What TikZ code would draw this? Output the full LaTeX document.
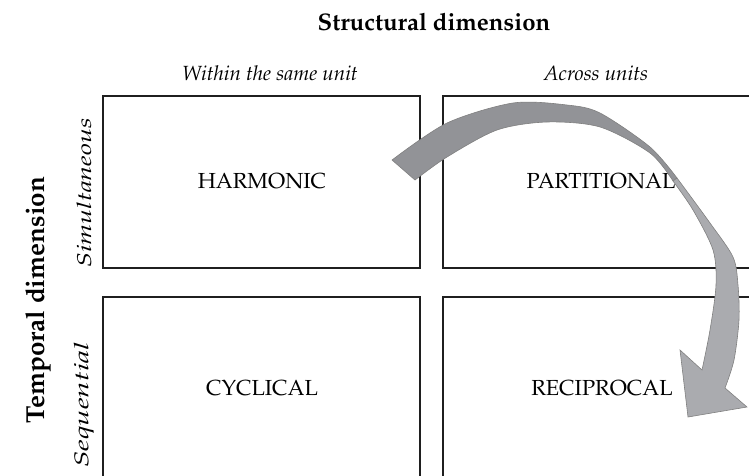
\documentclass[tikz,border=0pt]{standalone}
\usepackage[T1]{fontenc}
\renewcommand{\rmdefault}{ppl}
\begin{document}
\begin{tikzpicture}[x=1pt,y=-1pt,
  cell/.style={draw=black!88,line width=1.8pt},
  lab/.style={font=\fontsize{21.8}{26}\selectfont},
  head/.style={font=\fontsize{24}{28}\selectfont\bfseries},
  sub/.style={font=\fontsize{20.5}{24}\selectfont\itshape},
  vsub/.style={font=\fontsize{20}{24}\selectfont\itshape},
  ribbon/.style={draw=black!50,line width=0.6pt}]
\useasboundingbox (0,0) rectangle (749,475);
\begin{scope}
\clip (0,0) rectangle (749,475);
\draw[cell] (103,96) rectangle (420,268);
\draw[cell] (443,96) rectangle (770,268);
\draw[cell] (103,297) rectangle (420,490);
\draw[cell] (443,297) rectangle (770,490);
\end{scope}
\node[head] (sd) at (434,22) {Structural dimension};
\node[sub] (wu) at (270,73) {Within the same unit};
\node[sub] (au) at (596,73) {Across units};
\node[head,rotate=90,font=\fontsize{26}{30}\selectfont\bfseries] (td) at (38,300) {Temporal dimension};
\node[vsub,rotate=90] (si) at (84,193) {\scalebox{1.34}[1]{Simultaneous}};
\node[vsub,rotate=90] (se) at (84,405) {\scalebox{1.48}[1]{Sequential}};
\node[lab] (ha) at (262,181) {HARMONIC};
\node[lab] (pa) at (601,181) {PARTITIONAL};
\node[lab] (cy) at (262,388) {CYCLICAL};
\node[lab] (re) at (602,388) {RECIPROCAL};
% twisted ribbon arrow
\filldraw[ribbon,fill={rgb,255:red,146;green,147;blue,151}]
  plot[smooth] coordinates {(392,160) (447,123) (513,103) (567,105) (600,113) (650,147) (677,178)}
  -- plot[smooth] coordinates {(673,181) (650,153) (600,127) (547,122) (497,130) (447,157) (415,180)}
  -- cycle;
\filldraw[ribbon,fill={rgb,255:red,170;green,171;blue,175}]
  plot[smooth] coordinates {(677,178) (710,223) (733,257) (738,285) (739,320) (734,360) (725,388)}
  -- (747,407) -- (688,417) -- (680,350) --
  plot[smooth] coordinates {(702,370) (710,330) (716,285) (713,250) (693,210) (673,181)}
  -- cycle;
\end{tikzpicture}
\end{document}
